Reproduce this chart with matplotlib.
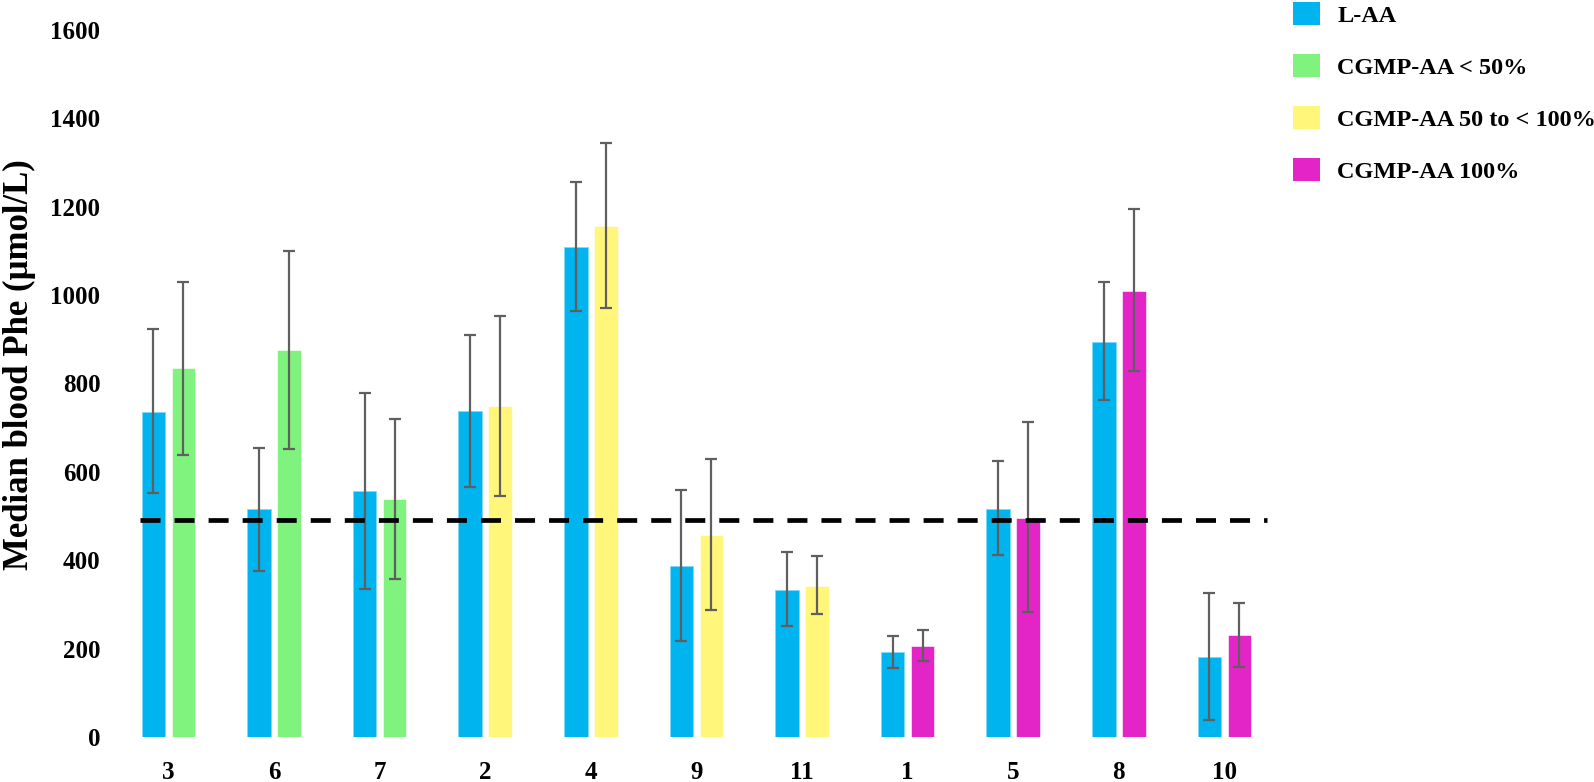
import numpy as np
import matplotlib
matplotlib.use('Agg')
import matplotlib.pyplot as plt
from matplotlib.patches import Patch

plt.rcParams['font.family'] = ['Liberation Serif', 'DejaVu Serif']
plt.rcParams['font.weight'] = 'bold'

# patient groups (x order as in the chart)
groups = ['3', '6', '7', '2', '4', '9', '11', '1', '5', '8', '10']

# L-AA median blood Phe and error range
laa = [736, 515, 557, 738, 1108, 388, 333, 192, 516, 895, 181]
laa_lo = [552, 376, 336, 565, 964, 218, 251, 156, 411, 763, 38]
laa_hi = [923, 653, 778, 910, 1255, 558, 418, 229, 624, 1029, 326]

# CGMP-AA median blood Phe and error range
cgmp = [834, 875, 538, 749, 1156, 457, 342, 207, 496, 1010, 230]
cgmp_lo = [638, 651, 358, 546, 970, 288, 278, 173, 283, 829, 158]
cgmp_hi = [1029, 1100, 719, 952, 1345, 629, 410, 243, 712, 1194, 303]
cgmp_cat = [1, 1, 1, 2, 2, 2, 2, 3, 3, 3, 3]

target = 492

cat_labels = ['L-AA', 'CGMP-AA < 50%', 'CGMP-AA 50 to < 100%', 'CGMP-AA 100%']
cat_colors = ['#00B4EF', '#80F27E', '#FFF67A', '#E325C8']

W, H = 1594, 782
fig = plt.figure(figsize=(W / 100, H / 100), dpi=100)
left_px, right_px = 115.6, 1277.2
top_px, bot_px = 30, 737
ax = fig.add_axes([left_px / W, (H - bot_px) / H,
                   (right_px - left_px) / W, (bot_px - top_px) / H])

x = np.arange(len(groups))
bw = 0.2225
off = 0.142

laa = np.array(laa)
cgmp = np.array(cgmp)
err_kw = dict(ecolor='#5f5f5f', elinewidth=1.6, capsize=4.2, capthick=1.6)

ax.bar(x - off, laa, bw, color=cat_colors[0], edgecolor='#7fd8f7', linewidth=0.6,
       yerr=[laa - np.array(laa_lo), np.array(laa_hi) - laa], error_kw=err_kw, zorder=2)
ax.bar(x + off, cgmp, bw, color=[cat_colors[c] for c in cgmp_cat],
       edgecolor='white', linewidth=0.4,
       yerr=[cgmp - np.array(cgmp_lo), np.array(cgmp_hi) - cgmp], error_kw=err_kw, zorder=2)

ax.plot([-0.27, 10.4], [target, target], color='black', lw=3.4,
        dashes=(4.24, 2.97), zorder=4)

ax.set_xlim(-0.5, 10.5)
ax.set_ylim(0, 1600)
ax.set_yticks(range(0, 1601, 200))
ax.set_xticks(x)
ax.set_xticklabels(groups)
ax.tick_params(axis='both', length=0, labelsize=18)
ax.tick_params(axis='y', pad=11)
ax.tick_params(axis='x', pad=17)
for s in ax.spines.values():
    s.set_visible(False)

ax.set_ylabel('Median blood Phe (µmol/L)', fontsize=25, fontweight='bold')
ax.yaxis.set_label_coords(-0.0685, 0.527)

handles = [Patch(facecolor=c, edgecolor='none') for c in cat_colors]
fig.legend(handles, cat_labels, loc='upper left', bbox_to_anchor=(1293 / W, 0.997),
           frameon=False, fontsize=17.5, handlelength=1.12, handleheight=1.08,
           handletextpad=0.7, labelspacing=1.12, borderpad=0, borderaxespad=0)

fig.savefig('out.png', dpi=100)
